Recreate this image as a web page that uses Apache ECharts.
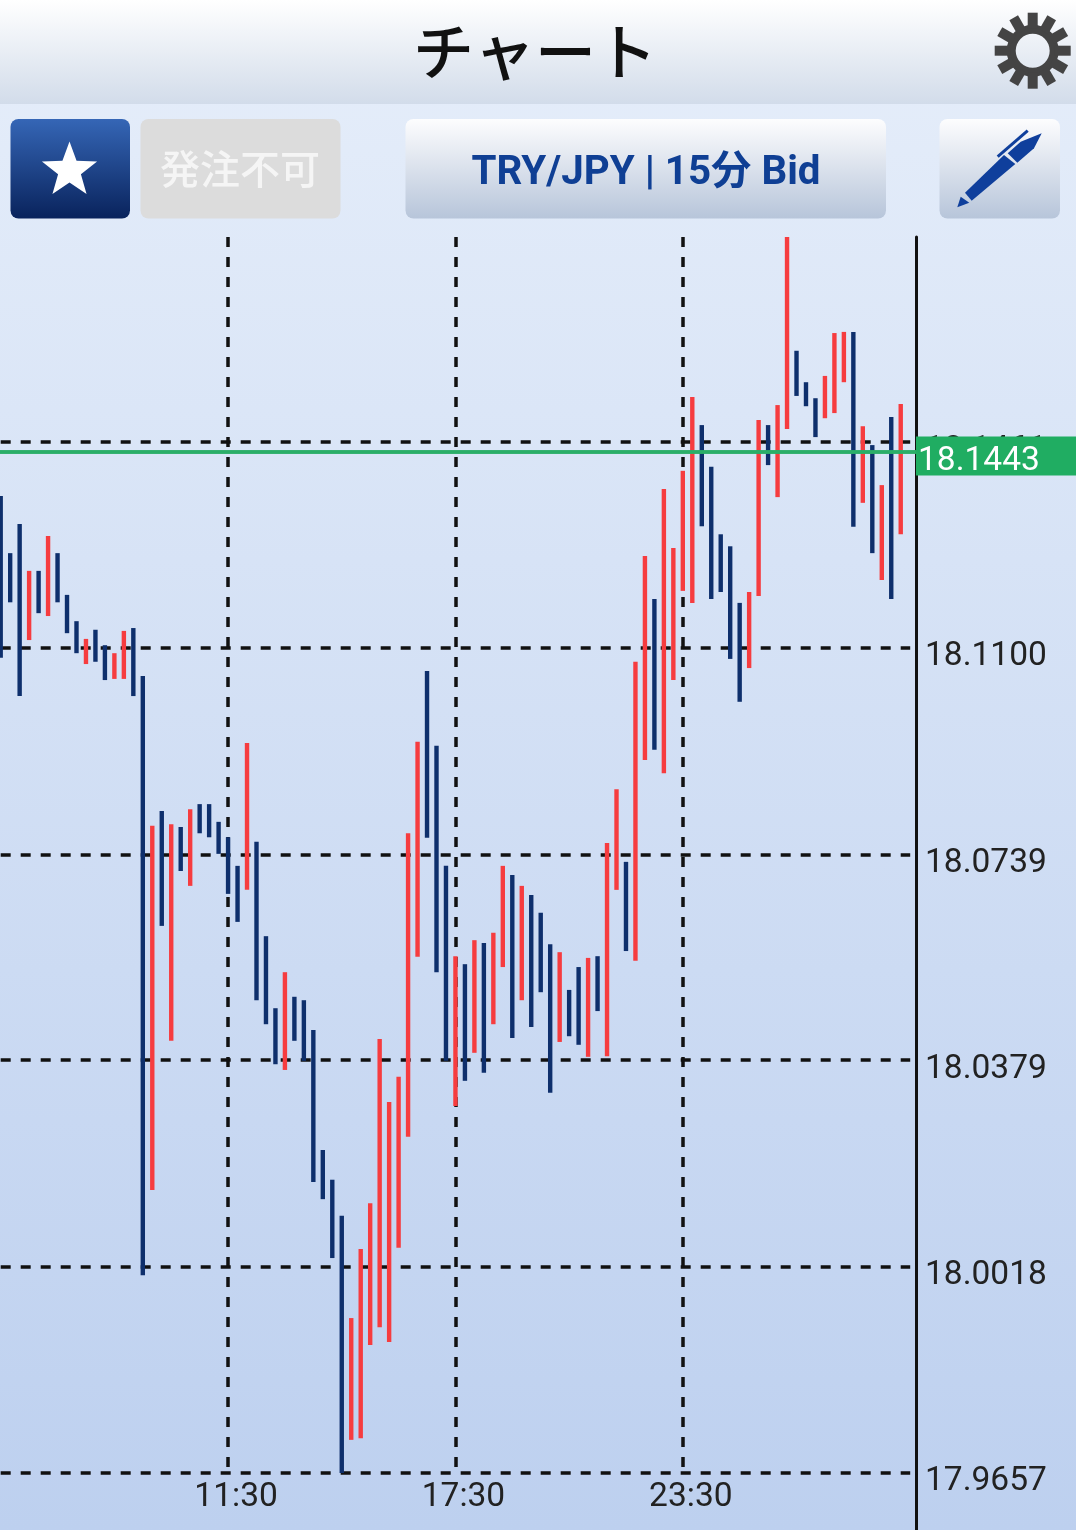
<!DOCTYPE html>
<html>
<head>
<meta charset="utf-8">
<style>html,body{margin:0;padding:0;background:#dfe8f6;overflow:hidden}#c{width:1076px;height:1530px}</style>
<script src="https://cdn.jsdelivr.net/npm/echarts@6/dist/echarts.min.js"></script>
</head>
<body>
<div id="c"></div>
<script>
const categories = ["05:30","05:45","06:00","06:15","06:30","06:45","07:00","07:15","07:30","07:45","08:00","08:15","08:30","08:45","09:00","09:15","09:30","09:45","10:00","10:15","10:30","10:45","11:00","11:15","11:30","11:45","12:00","12:15","12:30","12:45","13:00","13:15","13:30","13:45","14:00","14:15","14:30","14:45","15:00","15:15","15:30","15:45","16:00","16:15","16:30","16:45","17:00","17:15","17:30","17:45","18:00","18:15","18:30","18:45","19:00","19:15","19:30","19:45","20:00","20:15","20:30","20:45","21:00","21:15","21:30","21:45","22:00","22:15","22:30","22:45","23:00","23:15","23:30","23:45","00:00","00:15","00:30","00:45","01:00","01:15","01:30","01:45","02:00","02:15","02:30","02:45","03:00","03:15","03:30","03:45","04:00","04:15","04:30","04:45","05:00","05:15","05:30"];
const highs = [18.1366,18.1266,18.1317,18.1235,18.1235,18.1296,18.1266,18.1193,18.1147,18.1116,18.1132,18.1105,18.1091,18.1130,18.1135,18.1051,18.0789,18.0815,18.0792,18.0787,18.0818,18.0827,18.0827,18.0796,18.0769,18.0719,18.0934,18.0761,18.0596,18.0470,18.0533,18.0490,18.0484,18.0432,18.0222,18.0170,18.0107,17.9928,18.0049,18.0129,18.0416,18.0306,18.0350,18.0776,18.0936,18.1060,18.0929,18.0719,18.0561,18.0547,18.0589,18.0584,18.0602,18.0719,18.0703,18.0684,18.0668,18.0637,18.0582,18.0568,18.0502,18.0542,18.0558,18.0561,18.0759,18.0853,18.0726,18.1076,18.1261,18.1186,18.1378,18.1275,18.1410,18.1539,18.1490,18.1417,18.1299,18.1278,18.1179,18.1198,18.1499,18.1490,18.1525,18.1819,18.1620,18.1565,18.1537,18.1576,18.1651,18.1653,18.1653,18.1488,18.1455,18.1385,18.1504,18.1527];
const lows = [18.1083,18.1180,18.1016,18.1114,18.1161,18.1156,18.1180,18.1126,18.1091,18.1072,18.1076,18.1044,18.1046,18.1046,18.1016,18.0003,18.0152,18.0614,18.0413,18.0710,18.0684,18.0776,18.0769,18.0740,18.0670,18.0621,18.0677,18.0484,18.0442,18.0372,18.0362,18.0413,18.0378,18.0166,18.0136,18.0033,17.9657,17.9715,17.9718,17.9881,17.9912,17.9886,18.0051,18.0245,18.0560,18.0768,18.0533,18.0378,18.0299,18.0343,18.0392,18.0357,18.0442,18.0542,18.0418,18.0484,18.0437,18.0498,18.0322,18.0411,18.0421,18.0406,18.0385,18.0465,18.0386,18.0677,18.0570,18.0553,18.0904,18.0922,18.0881,18.1044,18.1200,18.1179,18.1313,18.1186,18.1198,18.1081,18.1006,18.1065,18.1191,18.1420,18.1364,18.1483,18.1541,18.1523,18.1469,18.1502,18.1511,18.1565,18.1312,18.1354,18.1266,18.1219,18.1186,18.1299];
const directions = "BBBRBRBBBRBBRRBBRBRBRBBBBBRBBBRBBBBBBRRRRRRRRBBBRBRBRRBRBBBRBBRBRRBRRBRRRRBBBBBRRBRRBBBRRRBRBRBR".split("");
const yTicks = [17.9657,18.0018,18.0379,18.0739,18.1100,18.1461];
const lastPrice = 18.1443;
const xLabelEvery = 24;
const titleText = "チャート";
const orderText = "発注不可";
const pairText = "TRY/JPY | 15分 Bid";

const RED = "#f63c3f", BLUE = "#0e2f6c";
const btnGrad = new echarts.graphic.LinearGradient(0,0,0,1,[{offset:0,color:"#fdfdfe"},{offset:1,color:"#b7c5da"}]);
const isMajor = i => i > 0 && i < 96 && i % xLabelEvery === 0;

const starPts = [];
for (let i = 0; i < 10; i++) {
  const r = i % 2 ? 12 : 29, a = -Math.PI/2 + i*Math.PI/5;
  starPts.push([69.5 + r*Math.cos(a), 170.5 + r*Math.sin(a)]);
}
const gear = [{type:"ring",shape:{cx:1032.7,cy:50.7,r:26,r0:17},style:{fill:"#444444"}}];
for (let i = 0; i < 12; i++) {
  const a = i*Math.PI/6;
  gear.push({type:"line",shape:{x1:1032.7+22*Math.sin(a),y1:50.7-22*Math.cos(a),x2:1032.7+38*Math.sin(a),y2:50.7-38*Math.cos(a)},style:{stroke:"#444444",lineWidth:10}});
}
const PEN = "#0f3f9c";
const decor = [
  {type:"rect",shape:{x:0,y:0,width:1076,height:104},style:{fill:new echarts.graphic.LinearGradient(0,0,0,1,[{offset:0,color:"#ffffff"},{offset:1,color:"#d2dcea"}])}},
  {type:"text",style:{x:535,y:52,text:titleText,fill:"#111111",font:"500 61px 'Noto Sans CJK JP'",align:"center",verticalAlign:"middle"}},
  ...gear,
  {type:"rect",shape:{x:10.5,y:119,width:119.5,height:99.5,r:8},style:{fill:new echarts.graphic.LinearGradient(0,0,0,1,[{offset:0,color:"#3566b6"},{offset:1,color:"#09235c"}])}},
  {type:"polygon",shape:{points:starPts},style:{fill:"#ffffff"}},
  {type:"rect",shape:{x:140.5,y:119,width:200,height:99.5,r:8},style:{fill:"#dcdcdc"}},
  {type:"text",style:{x:240,y:168.5,text:orderText,fill:"#f5f5f5",font:"500 40px 'Noto Sans CJK JP'",align:"center",verticalAlign:"middle"}},
  {type:"rect",shape:{x:405.5,y:119,width:480.5,height:99.5,r:8},style:{fill:btnGrad}},
  {type:"text",style:{x:646,y:174,text:pairText,fill:"#0f3f94",font:"700 40.3px Roboto,'Noto Sans CJK JP'",align:"center",verticalAlign:"middle"}},
  {type:"rect",shape:{x:939.5,y:119,width:120.5,height:99.5,r:8},style:{fill:btnGrad}},
  {type:"polygon",shape:{points:[[957.3,207.3],[960.7,196.7],[969.3,202.7]]},style:{fill:PEN}},
  {type:"polygon",shape:{points:[[965,192.7],[1004,155],[1015.3,164],[971.7,200.7]]},style:{fill:PEN}},
  {type:"polygon",shape:{points:[[1007.7,153.3],[1020.7,141.7],[1041.7,133.3],[1034,148.3],[1017.3,162.7]]},style:{fill:PEN}},
  {type:"line",shape:{x1:997.7,y1:156.7,x2:1027.7,y2:130.7},style:{stroke:PEN,lineWidth:3}},
  {type:"line",shape:{x1:916.5,y1:1472,x2:916.5,y2:1530},style:{stroke:"#111111",lineWidth:3}}
];

const lastLine = [{yAxis:lastPrice,x:0},{yAxis:lastPrice,x:916}];
const chart = echarts.init(document.getElementById("c"), null, {renderer:"canvas",width:1076,height:1530});
chart.setOption({
  animation:false,
  backgroundColor:new echarts.graphic.LinearGradient(0,0,0,1,[{offset:0,color:"#e6eefa"},{offset:1,color:"#bdd0ef"}]),
  graphic:decor,
  grid:{left:0.7,right:165.8,top:237,bottom:57,containLabel:false},
  xAxis:{
    type:"category",boundaryGap:false,data:categories,
    axisLine:{show:false},axisTick:{show:false},
    axisLabel:{interval:(i)=>isMajor(i),color:"#222222",fontFamily:"Roboto",fontSize:33.5,margin:8,padding:[0,0,0,16],hideOverlap:false},
    splitLine:{show:true,interval:(i)=>isMajor(i),lineStyle:{color:"#111111",width:3.5,type:[10,10]}}
  },
  yAxis:{
    type:"value",position:"right",offset:5.8,min:17.9657,max:18.1819,scale:true,
    axisLine:{show:true,lineStyle:{color:"#111111",width:3}},
    axisTick:{show:false,customValues:yTicks},
    axisLabel:{customValues:yTicks,showMinLabel:true,showMaxLabel:true,hideOverlap:false,color:"#222222",fontFamily:"Roboto",fontSize:33.5,margin:9,verticalAlign:"top",lineHeight:18,formatter:v=>v.toFixed(4)},
    splitLine:{show:true,lineStyle:{color:"#111111",width:3.5,type:[10,10]}}
  },
  series:[{
    type:"custom",clip:false,z:3,
    encode:{x:0,y:[1,2]},
    data:highs.map((h,i)=>[i,h,lows[i]]),
    renderItem:(p,api)=>{
      const i = api.value(0);
      const a = api.coord([i,api.value(1)]), b = api.coord([i,api.value(2)]);
      return {type:"rect",shape:{x:a[0]-2.2,y:a[1],width:4.4,height:b[1]-a[1]},style:{fill:directions[i]==="R"?RED:BLUE}};
    },
    markLine:{
      silent:true,symbol:"none",z:5,
      data:[
        lastLine.map((p,i)=>i?{...p,label:{show:true,position:"end",distance:0,offset:[0,4],formatter:()=>" ",backgroundColor:"#20ad62",width:160,height:39,padding:0,align:"left",verticalAlign:"middle"}}:p),
        lastLine.map((p,i)=>i?{...p,label:{show:true,position:"end",distance:0,offset:[2,9.5],formatter:()=>lastPrice.toFixed(4),color:"#ffffff",fontFamily:"Roboto",fontSize:33.5,align:"left",verticalAlign:"middle"}}:p)
      ],
      lineStyle:{color:"#2bae68",width:3.5,type:"solid"}
    }
  }]
});
</script>
</body>
</html>
